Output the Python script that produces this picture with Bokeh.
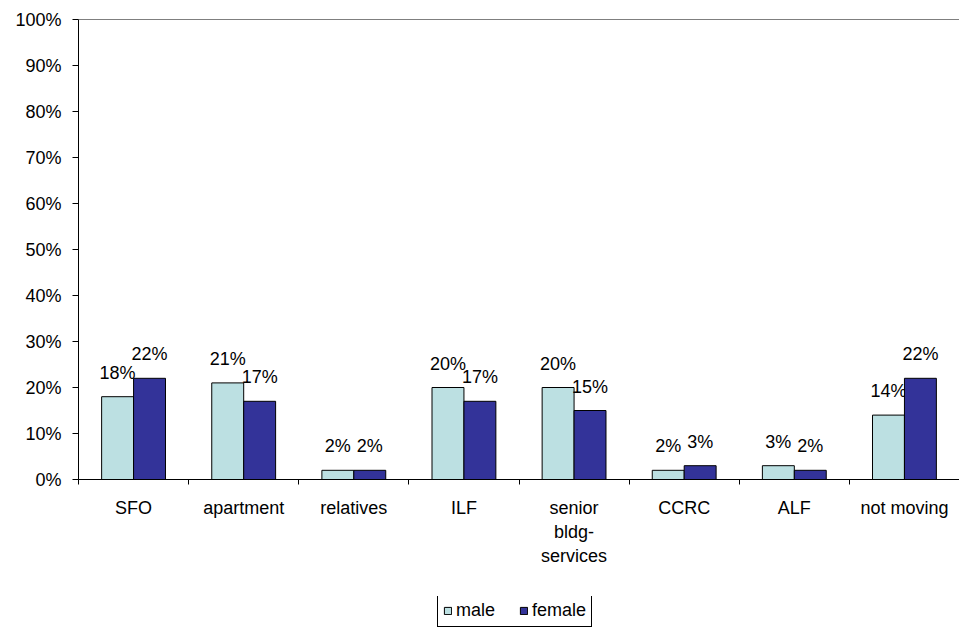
import numpy as np
from bokeh.plotting import figure
from bokeh.layouts import column
from bokeh.models import (Range1d, FixedTicker, NumeralTickFormatter, CustomJSTickFormatter,
                          ColumnDataSource, Legend, LegendItem, Span)
from bokeh.core.properties import value
from bokeh.embed import file_html
from bokeh.resources import INLINE

categories = ["SFO", "apartment", "relatives", "ILF", "senior\nbldg-\nservices", "CCRC", "ALF", "not moving"]
male = [0.18, 0.21, 0.02, 0.20, 0.20, 0.02, 0.03, 0.14]
female = [0.22, 0.17, 0.02, 0.17, 0.15, 0.03, 0.02, 0.22]
series_names = ["male", "female"]
colors = ["#BCE0E2", "#333399"]
y_ticks = [0.0, 0.1, 0.2, 0.3, 0.4, 0.5, 0.6, 0.7, 0.8, 0.9, 1.0]

FONT = "Liberation Sans"
FS = "18px"
n = len(categories)
idx = np.arange(n)
bw = 0.29

p = figure(width=959, height=596, output_backend="svg", toolbar_location=None,
           x_range=Range1d(0, n), y_range=Range1d(0, 1),
           min_border_left=78, min_border_right=0, min_border_top=19, min_border_bottom=117)
p.outline_line_color = None
p.xgrid.grid_line_color = None
p.ygrid.grid_line_color = None
p.background_fill_color = "white"
p.border_fill_color = "white"

for k, (vals, col) in enumerate(zip([male, female], colors)):
    xs = idx + 0.5 + (k - 0.5) * bw
    src = ColumnDataSource(dict(x=xs, top=vals, lbl=[f"{round(v*100)}%" for v in vals]))
    p.vbar(x="x", top="top", width=bw, source=src, fill_color=col, line_color="black", line_width=1)
    p.text(x="x", y="top", text="lbl", source=src, text_align="center", text_baseline="bottom",
           y_offset=-14, text_font=value(FONT), text_font_size=FS, text_color="black")

# top frame line
p.add_layout(Span(location=1, dimension="width", line_color="black", line_width=1))

# y axis
ya = p.yaxis[0]
ya.ticker = FixedTicker(ticks=y_ticks)
ya.formatter = NumeralTickFormatter(format="0%")
ya.major_tick_out = 6
ya.major_tick_in = 0
ya.minor_tick_out = 0
ya.minor_tick_in = 0
ya.axis_line_color = "black"
ya.major_label_text_font = FONT
ya.major_label_text_font_size = FS
ya.major_label_text_color = "black"
ya.major_label_standoff = 11

# x axis
xa = p.xaxis[0]
xa.ticker = FixedTicker(ticks=list(idx + 0.5), minor_ticks=list(range(n + 1)))
xa.formatter = CustomJSTickFormatter(args=dict(labels=categories),
                                     code="return labels[Math.floor(tick)];")
xa.major_tick_out = 0
xa.major_tick_in = 0
xa.minor_tick_out = 5
xa.minor_tick_in = 0
xa.axis_line_color = "black"
xa.major_label_text_font = FONT
xa.major_label_text_font_size = FS
xa.major_label_text_color = "black"
xa.major_label_text_line_height = 1.2
xa.major_label_standoff = 13

# legend strip
lf = figure(width=959, height=33, output_backend="svg", toolbar_location=None,
            x_range=Range1d(0, 1), y_range=Range1d(0, 1),
            min_border_left=78, min_border_right=0, min_border_top=0, min_border_bottom=0)
lf.axis.visible = False
lf.grid.visible = False
lf.outline_line_color = None
lf.border_fill_color = "white"
leg_rends = []
for col in colors:
    leg_rends.append(lf.vbar(x=[np.nan], top=[np.nan], width=0.1, fill_color=col,
                             line_color="black", line_width=1))
legend = Legend(items=[LegendItem(label=series_names[i], renderers=[leg_rends[i]]) for i in range(2)],
                orientation="horizontal", location=(359, 2),
                label_text_font=FONT, label_text_font_size=FS, label_text_color="black",
                glyph_width=9, glyph_height=9, spacing=24, padding=5, margin=0,
                label_standoff=4, border_line_color="black", border_line_width=1,
                border_line_alpha=1, background_fill_alpha=1)
lf.add_layout(legend, "center")

open("out.html", "w").write(file_html(column(p, lf, spacing=0), INLINE))
